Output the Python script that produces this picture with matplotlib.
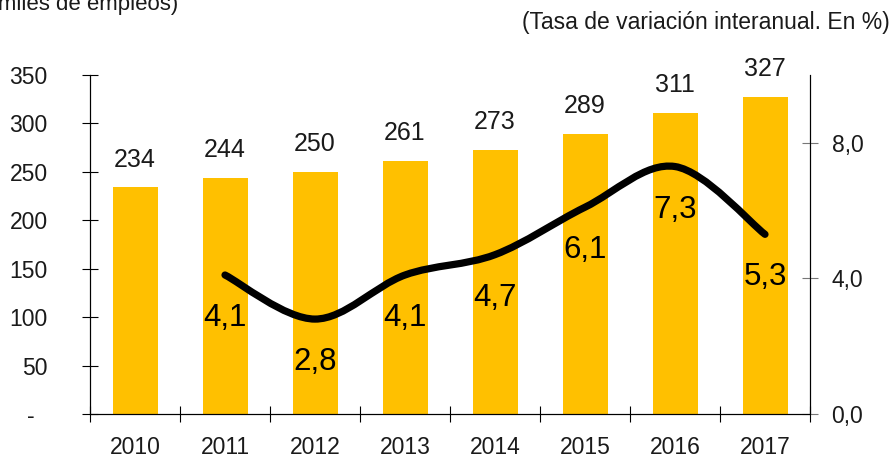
import matplotlib
matplotlib.use("Agg")
import matplotlib.pyplot as plt
from matplotlib.path import Path
from matplotlib.patches import PathPatch
import numpy as np

plt.rcParams['font.family'] = ['Liberation Sans', 'DejaVu Sans']

# --- data ---
years = ['2010', '2011', '2012', '2013', '2014', '2015', '2016', '2017']
empleos = [234, 244, 250, 261, 273, 289, 311, 327]  # miles de empleos
tasa_years = ['2011', '2012', '2013', '2014', '2015', '2016', '2017']
tasa = [4.1, 2.8, 4.1, 4.7, 6.1, 7.3, 5.3]  # tasa de variacion interanual (%)

left_ticks = [0, 50, 100, 150, 200, 250, 300, 350]
left_labels = ['-  ', '50', '100', '150', '200', '250', '300', '350']
right_ticks = [0, 4, 8]
right_labels = ['0,0', '4,0', '8,0']

bar_color = '#FFC000'
txt_color = '#1a1a1a'

fig = plt.figure(figsize=(8.96, 4.58), dpi=100)
ax = fig.add_axes([90 / 896, 44 / 458, 720 / 896, 339 / 458])
ax2 = ax.twinx()

x = np.arange(len(years))
ax.bar(x, empleos, width=0.5, color=bar_color, zorder=2)
for xi, v in zip(x, empleos):
    ax.annotate(str(v), (xi, v), xytext=(0, 20), textcoords='offset points',
                ha='center', va='center', fontsize=18, color=txt_color)

ax.set_xlim(-0.5, len(years) - 0.5)
ax.set_ylim(0, 350)
ax.set_yticks(left_ticks)
ax.set_yticklabels(left_labels)
ax.set_xticks(np.arange(len(years) + 1) - 0.5)
ax.set_xticklabels([])
ax.set_xticks(x, minor=True)
ax.set_xticklabels(years, minor=True)
ax.tick_params(axis='x', which='major', direction='inout', length=11, width=0.8)
ax.tick_params(axis='x', which='minor', length=0, pad=16, labelsize=16.5, labelcolor=txt_color)
ax.tick_params(axis='y', direction='inout', length=11, width=0.8, pad=25,
               labelsize=16.5, labelcolor=txt_color)
ax.spines['top'].set_visible(False)

# smoothed line (catmull-rom through the points, drawn as bezier path)
tx = np.array([years.index(y) for y in tasa_years], dtype=float)
ty = np.array(tasa)
pts = np.column_stack([tx, ty])
ext = np.vstack([pts[0], pts, pts[-1]])
verts = [tuple(pts[0])]
codes = [Path.MOVETO]
for i in range(1, len(ext) - 2):
    p0, p1, p2, p3 = ext[i - 1], ext[i], ext[i + 1], ext[i + 2]
    c1 = p1 + (p2 - p0) / 6
    c2 = p2 - (p3 - p1) / 6
    verts += [tuple(c1), tuple(c2), tuple(p2)]
    codes += [Path.CURVE4] * 3
ax2.add_patch(PathPatch(Path(verts, codes), fill=False, lw=5.2, edgecolor='black',
                        capstyle='round', joinstyle='round', zorder=3))
for xi, v in zip(tx, tasa):
    ax2.annotate(f"{v:.1f}".replace('.', ','), (xi, v), xytext=(0, -31),
                 textcoords='offset points', ha='center', va='center',
                 fontsize=22.5, color='black')

ax2.set_ylim(0, 10)
ax2.set_yticks(right_ticks)
ax2.set_yticklabels(right_labels)
ax2.tick_params(axis='y', direction='inout', length=11, width=0.8, color='#777777',
                pad=10, labelsize=16.5, labelcolor=txt_color)
ax2.spines['top'].set_visible(False)

fig.text(178 / 896, 1 - 10 / 458, '(En miles de empleos)', ha='right', va='baseline',
         fontsize=16, color=txt_color)
fig.text(890 / 896, 1 - 22 / 458, '(Tasa de variación interanual. En %)', ha='right',
         va='center', fontsize=16.5, color=txt_color)

fig.savefig('out.png', dpi=100)
